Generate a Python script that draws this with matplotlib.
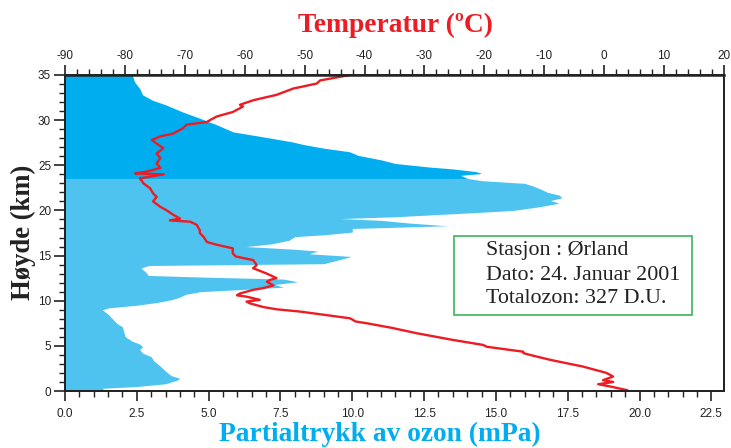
import matplotlib
matplotlib.use("Agg")
import matplotlib.pyplot as plt
import numpy as np
from matplotlib.ticker import MultipleLocator, FormatStrFormatter
from matplotlib.patches import Rectangle

plt.rcParams["axes.unicode_minus"] = False

# ---- data ----
ozone_alt = [0.0, 0.3, 0.5, 0.8, 1.2, 1.4, 1.7, 2.2, 2.8, 3.3, 3.8, 4.2, 4.6, 4.9, 5.2, 5.5,
             6.0, 6.5, 7.1, 7.5, 8.0, 8.5, 9.0, 9.2, 9.5, 9.8, 10.1, 10.4, 10.7, 11.0, 11.3,
             11.5, 11.8, 12.1, 12.4, 12.6, 12.8, 13.2, 13.6, 13.9, 14.1, 14.5, 14.9, 15.2,
             15.5, 15.7, 16.0, 16.3, 16.7, 17.1, 17.3, 17.6, 18.0, 18.3, 18.6, 18.9, 19.1,
             19.3, 19.5, 19.8, 20.0, 20.4, 20.8, 21.1, 21.4, 21.7, 22.0, 22.3, 22.7, 23.0,
             23.3, 23.55, 23.9, 24.1, 24.3, 24.6, 24.8, 25.2, 25.6, 26.1, 26.5, 26.9, 27.3,
             27.6, 28.2, 28.7, 29.5, 30.2, 30.9, 31.7, 32.2, 32.8, 33.5, 34.25, 35.0]
ozone_mpa = [1.4, 1.3, 2.5, 3.5, 3.9, 4.0, 3.7, 3.5, 3.3, 3.1, 3.0, 2.7, 2.6, 2.7, 2.6, 2.35,
             2.1, 2.05, 2.0, 1.8, 1.65, 1.5, 1.3, 1.5, 2.5, 3.2, 3.7, 4.0, 4.2, 4.7, 6.5,
             7.6, 7.3, 8.1, 7.6, 5.0, 2.9, 2.8, 2.65, 2.9, 9.0, 9.5, 9.97, 8.5,
             8.8, 8.0, 6.3, 7.2, 7.8, 8.0, 9.0, 10.0, 10.0, 13.3, 12.0, 11.0, 9.6,
             11.5, 12.7, 14.5, 15.6, 16.5, 17.2, 16.9, 17.3, 17.2, 16.8, 16.6, 16.3, 16.0,
             14.5, 14.0, 13.75, 14.5, 14.3, 13.5, 12.7, 11.5, 11.0, 10.2, 9.9, 9.0, 8.3,
             7.9, 6.8, 5.85, 5.27, 4.7, 4.1, 3.5, 3.05, 2.7, 2.6, 2.42, 2.34]

temp_alt = [0.1, 0.5, 0.75, 1.0, 1.2, 1.6, 2.0, 2.7, 3.45, 4.0, 4.2, 4.35, 4.9, 5.1, 5.65,
            6.4, 7.0, 7.5, 7.7, 8.05, 8.4, 8.8, 9.05, 9.3, 9.7, 9.9, 10.1, 10.45, 10.6,
            10.8, 11.0, 11.2, 11.4, 11.7, 12.1, 12.3, 12.5, 13.0, 13.6, 13.95, 14.5, 14.9,
            15.25, 15.8, 16.2, 16.5, 17.1, 17.5, 17.8, 18.4, 18.75, 18.9, 19.1, 19.5, 20.0,
            20.4, 21.0, 21.5, 21.9, 22.45, 23.0, 23.55, 24.0, 24.1, 24.3, 24.7, 25.2, 25.8,
            26.3, 26.9, 27.4, 27.8, 28.2, 28.5, 29.1, 29.5, 29.8, 30.0, 30.4, 30.9, 31.5,
            31.7, 32.2, 32.8, 33.5, 34.05, 34.4, 35.0]
temp_c = [3.8, 1.0, -1.0, 1.5, -0.2, 1.5, 0.4, -3.5, -9.0, -12.4, -13.5, -13.5, -19.6, -20.2, -25.2,
          -31.3, -35.5, -39.6, -41.5, -42.4, -46.3, -50.8, -54.7, -56.9, -59.1, -59.7, -57.5, -59.7, -61.3,
          -60.8, -59.7, -58.6, -56.9, -55.2, -56.3, -55.8, -54.7, -56.3, -58.6, -58.0, -58.6, -61.5,
          -62.0, -62.0, -64.7, -66.3, -66.9, -67.5, -67.5, -68.0, -69.1, -72.5, -70.8, -71.9, -73.0,
          -74.1, -75.3, -74.7, -75.3, -75.8, -76.9, -77.5, -73.5, -78.3, -76.4, -74.1, -74.7, -74.1,
          -74.7, -73.6, -74.7, -75.5, -74.1, -72.0, -70.3, -69.7, -66.3, -65.8, -64.7, -62.0, -60.3,
          -60.8, -58.6, -54.7, -51.9, -48.0, -47.4, -42.4]

info_lines = ["Stasjon : Ørland", "Dato: 24. Januar 2001", "Totalozon: 327 D.U."]

# ---- figure ----
W, H = 731, 448
fig = plt.figure(figsize=(W / 100, H / 100), dpi=100)
ax = fig.add_axes([65 / W, (H - 391) / H, (724 - 65) / W, (391 - 75) / H])

serif = ["Liberation Serif", "DejaVu Serif"]
sans = ["Liberation Sans", "DejaVu Sans"]

oa = np.array(ozone_alt)
om = np.array(ozone_mpa)
ax.fill_betweenx(oa[oa <= 24.1], 0, om[oa <= 24.1], color="#4fc3ef", lw=0)
ax.fill_betweenx(oa[oa >= 23.55], 0, om[oa >= 23.55], color="#00aeef", lw=0)

ax.set_xlim(0, 22.94)
ax.set_ylim(0, 35)

ax2 = ax.twiny()
ax2.set_xlim(-90, 20)
ax2.plot(temp_c, temp_alt, color="#ed1c24", lw=1.7, solid_joinstyle="round")

# ticks
ax.xaxis.set_major_locator(MultipleLocator(2.5))
ax.xaxis.set_minor_locator(MultipleLocator(0.5))
ax.xaxis.set_major_formatter(FormatStrFormatter("%.1f"))
ax.yaxis.set_major_locator(MultipleLocator(5))
ax.yaxis.set_minor_locator(MultipleLocator(1))
ax2.xaxis.set_major_locator(MultipleLocator(10))
ax2.xaxis.set_minor_locator(MultipleLocator(2))

for a in (ax, ax2):
    a.tick_params(which="major", length=7, width=1.2, direction="out", labelsize=8.5, pad=2, color="#222222")
    a.tick_params(which="minor", length=4, width=1.0, direction="out", color="#222222")
    for lab in a.get_xticklabels() + a.get_yticklabels():
        lab.set_family(sans)
        lab.set_color("#222222")
ax.tick_params(axis="y", which="major", length=8)
ax.tick_params(axis="x", which="major", pad=5)

for s in ax.spines.values():
    s.set_linewidth(1.3)
    s.set_color("#222222")
for s in ax2.spines.values():
    s.set_linewidth(1.3)
    s.set_color("#222222")
ax2.spines["top"].set_linewidth(1.8)

# info box
ax.add_patch(Rectangle((0.590, 0.2405), 0.361, 0.25, transform=ax.transAxes,
                       fill=True, facecolor="white", edgecolor="#3cb45a", lw=1.2, zorder=5))
for t, yf in zip(info_lines, [0.444, 0.366, 0.294]):
    ax.text(0.639, yf, t, transform=ax.transAxes, fontsize=15.8, family=serif,
            color="#222222", va="center", ha="left", zorder=6)

# labels
fig.text(395 / W, 1 - 25 / H, "Temperatur (ºC)", color="#ed1c24", fontsize=19.8,
         fontweight="bold", family=serif, ha="center", va="center")
fig.text(380 / W, 1 - 434 / H, "Partialtrykk av ozon (mPa)", color="#00aeef", fontsize=19.8,
         fontweight="bold", family=serif, ha="center", va="center")
fig.text(23 / W, 1 - 232 / H, "Høyde (km)", color="#222222", fontsize=19.2,
         fontweight="bold", family=serif, ha="center", va="center", rotation=90)

fig.savefig("out.png", dpi=100)
